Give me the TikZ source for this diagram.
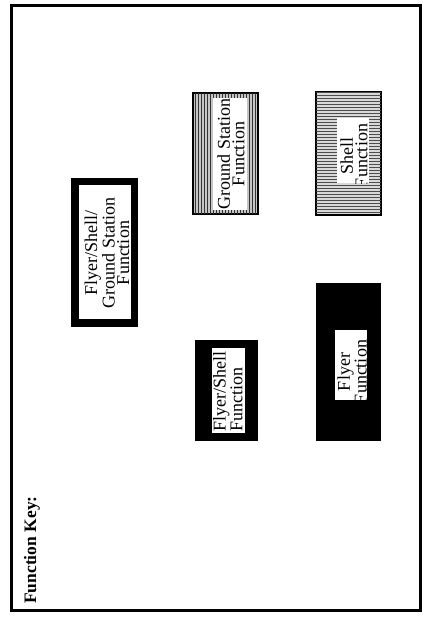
\documentclass[tikz,border=0pt]{standalone}
\usepackage{fontspec}
\setmainfont{Liberation Serif}
\usetikzlibrary{patterns}
\begin{document}
\begin{tikzpicture}[x=1pt,y=-1pt,
  outerbox/.style={fill=black,draw=none,inner sep=0pt,minimum width=#1},
  graybox/.style={fill=gray!45,draw=black,line width=2.5pt,inner sep=0pt},
  whitebox/.style={fill=white,draw=none,inner sep=0pt},
  boxtext/.style={rotate=90,inner sep=0pt,align=center,font=\fontsize{18}{14.5}\selectfont},
  keytext/.style={rotate=90,inner sep=0pt,font=\fontsize{17.5}{17}\selectfont\bfseries}]
\useasboundingbox (0,0) rectangle (426,618);
\fill[white] (0,0) rectangle (426,618);
% frame
\coordinate (fa) at (11.5,5.5);
\coordinate (fb) at (420,610);
\draw[line width=3pt] (fa) rectangle (fb);
\node[keytext,anchor=base west] (key) at (36,604) {Function Key:};
% box 1: Flyer/Shell/Ground Station
\node[outerbox=67pt,minimum height=149pt] (b1) at (104.5,252.5) {};
\node[whitebox,minimum width=52pt,minimum height=134pt] (w1) at (105,252) {};
\node[boxtext] (t1) at (107,253) {Flyer/Shell/\\Ground Station\\Function};
% Ground Station
\node[graybox,minimum width=65pt,minimum height=121pt] (b2) at (225.5,153.5) {};
\fill[pattern=vertical lines,pattern color=black!80] ([shift={(1.5,-1.5)}]b2.south west) rectangle ([shift={(-1.5,1.5)}]b2.north east);
\node[whitebox,minimum width=34pt,minimum height=112pt] (w2) at (230,154) {};
\begin{scope}
\clip (w2.south west) rectangle (w2.north east);
\node[boxtext] (t2) at (231,154) {Ground Station\\Function};
\end{scope}
% Shell
\node[graybox,fill=gray!30,minimum width=65pt,minimum height=123pt] (b3) at (348.5,153.5) {};
\fill[pattern=horizontal lines,pattern color=black!70] ([shift={(1.5,-1.5)}]b3.south west) rectangle ([shift={(-1.5,1.5)}]b3.north east);
\node[whitebox,minimum width=32pt,minimum height=65pt] (w3) at (353,150.5) {};
\begin{scope}
\clip (w3.south west) rectangle (w3.north east);
\node[boxtext] (t3) at (354,156) {Shell\\Function};
\end{scope}
% Flyer/Shell
\node[outerbox=63pt,minimum height=101pt] (b4) at (226.5,390.5) {};
\node[whitebox,minimum width=33pt,minimum height=85pt] (w4) at (228.5,390) {};
\begin{scope}
\clip (w4.south west) rectangle (w4.north east);
\node[boxtext,align=left,anchor=north west] (t4) at (213,432) {Flyer/Shell\\Function};
\end{scope}
% Flyer
\node[outerbox=65pt,minimum height=158pt] (b5) at (348.5,362) {};
\node[whitebox,minimum width=32pt,minimum height=70pt] (w5) at (351,365) {};
\begin{scope}
\clip (w5.south west) rectangle (w5.north east);
\node[boxtext] (t5) at (352,372) {Flyer\\Function};
\end{scope}
\end{tikzpicture}
\end{document}
